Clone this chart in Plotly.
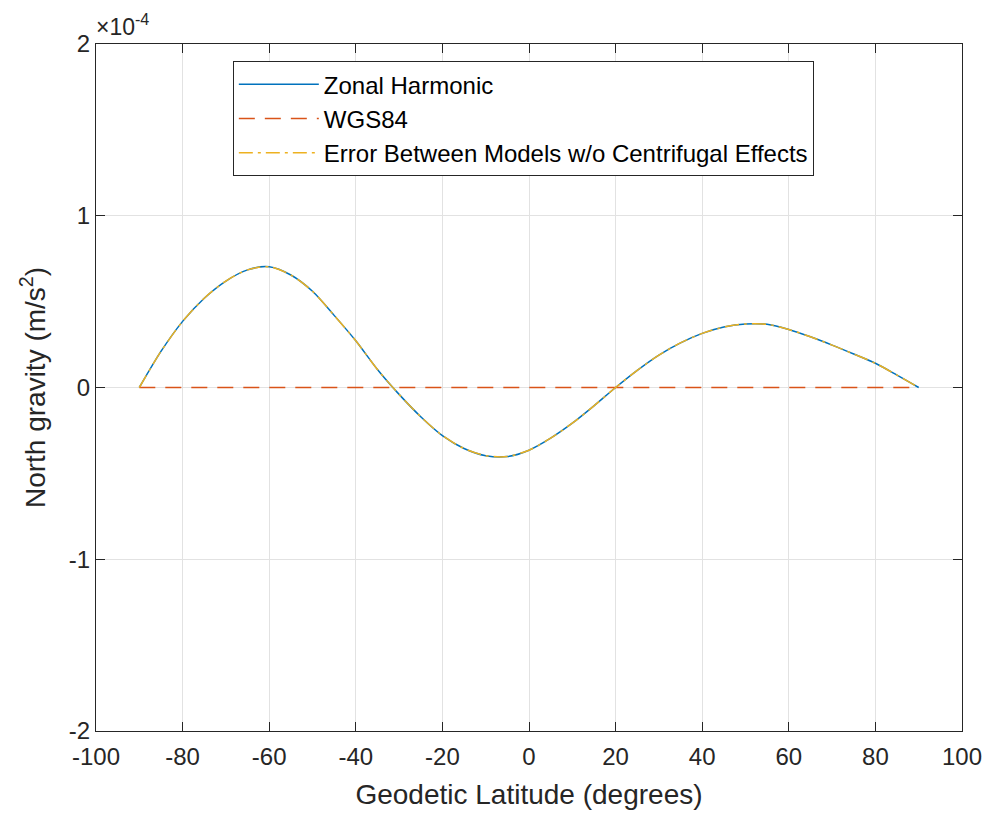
import plotly.graph_objects as go

# Geodetic latitude (degrees)
latitude = [-90, -85, -80, -75, -70, -65, -60, -55, -50, -45, -40, -35, -30, -25, -20,
            -15, -10, -5, 0, 5, 10, 15, 20, 25, 30, 35, 40, 45, 50, 55, 60, 65,
            70, 75, 80, 85, 90]
# North gravity, units of 1e-4 m/s^2
zonal_e4 = [0.0, 0.21, 0.385, 0.52, 0.62, 0.685, 0.703, 0.655, 0.56, 0.42, 0.272,
            0.105, -0.04, -0.17, -0.28, -0.355, -0.397, -0.402, -0.365, -0.295, -0.208,
            -0.107, 0.0, 0.10, 0.189, 0.26, 0.315, 0.352, 0.37, 0.368, 0.338, 0.295,
            0.247, 0.195, 0.141, 0.072, 0.0]
wgs84_e4 = [0.0] * len(latitude)
error_e4 = list(zonal_e4)

scale = 1e-4
zonal = [v * scale for v in zonal_e4]
wgs84 = [v * scale for v in wgs84_e4]
error = [v * scale for v in error_e4]

x_ticks = [-100, -80, -60, -40, -20, 0, 20, 40, 60, 80, 100]
y_ticks_e4 = [-2, -1, 0, 1, 2]

font_family = "Liberation Sans, Arial, sans-serif"
txt = "#262626"

fig = go.Figure()
fig.add_trace(go.Scatter(x=latitude, y=zonal, mode="lines", name="Zonal Harmonic",
                         line=dict(color="#0072BD", width=1.5, shape="spline", smoothing=0.8)))
fig.add_trace(go.Scatter(x=latitude, y=wgs84, mode="lines", name="WGS84",
                         line=dict(color="#D95319", width=1.5, dash="16px,10px")))
fig.add_trace(go.Scatter(x=latitude, y=error, mode="lines",
                         name="Error Between Models w/o Centrifugal Effects",
                         line=dict(color="#EDB120", width=1.5, dash="14px,5px,3px,5px",
                                   shape="spline", smoothing=0.8)))

axis_common = dict(
    showline=True, linecolor=txt, linewidth=1, mirror="ticks",
    ticks="inside", ticklen=9, tickcolor=txt, tickwidth=1,
    showgrid=True, gridcolor="#e2e2e2", gridwidth=1, zeroline=False,
    automargin=False,
    tickfont=dict(family=font_family, size=24, color=txt),
)

fig.update_xaxes(range=[-100, 100], tickvals=x_ticks, ticktext=[str(v) for v in x_ticks],
                 ticklabelstandoff=4,
                 title=dict(text="Geodetic Latitude (degrees)",
                            font=dict(family=font_family, size=28, color=txt)),
                 **axis_common)
fig.update_yaxes(range=[-2e-4, 2e-4], tickvals=[v * scale for v in y_ticks_e4],
                 ticktext=[str(v) for v in y_ticks_e4],
                 title=dict(text="North gravity (m/s<sup>2</sup>)",
                            font=dict(family=font_family, size=28, color=txt)),
                 **axis_common)

fig.add_annotation(x=0, y=1, xref="paper", yref="paper", xanchor="left", yanchor="bottom",
                   text="×10<sup>-4</sup>", showarrow=False, yshift=2, xshift=-2,
                   font=dict(family=font_family, size=23, color=txt))

fig.update_layout(
    width=985, height=817,
    margin=dict(l=96, r=23, t=44, b=86),
    paper_bgcolor="white", plot_bgcolor="white",
    font=dict(family=font_family, color=txt),
    showlegend=True,
    legend=dict(x=0.158, y=0.975, xanchor="left", yanchor="top",
                bgcolor="white", bordercolor=txt, borderwidth=1,
                font=dict(family=font_family, size=24, color="black"),
                tracegroupgap=0, itemwidth=80),
)

fig.write_html("out.html", config={"displayModeBar": False},
               post_script="document.body.style.margin='0';document.body.style.overflow='hidden';")
